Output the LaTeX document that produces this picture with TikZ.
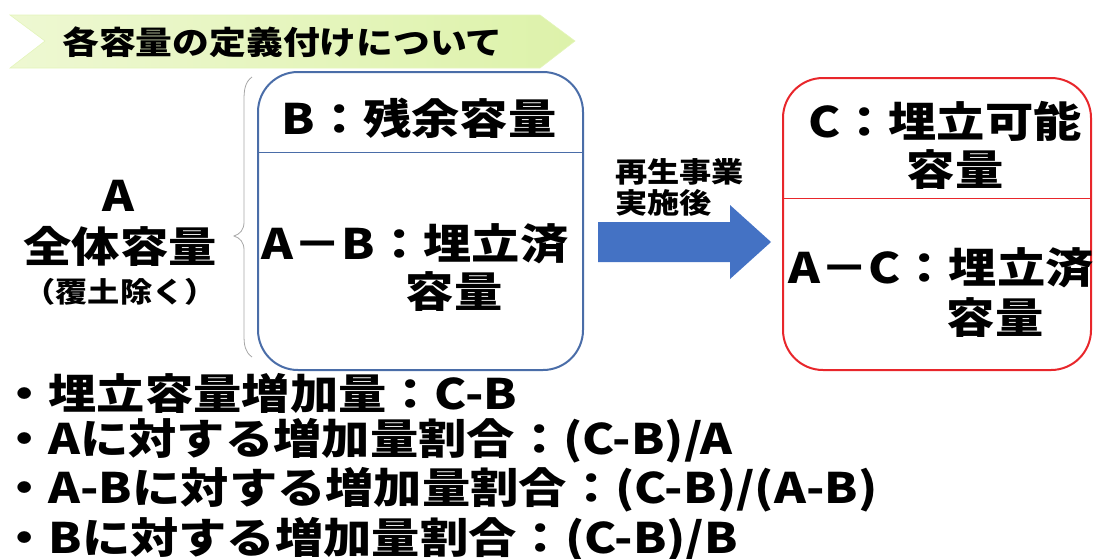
\documentclass[tikz,border=0pt]{standalone}
\usepackage{fontspec}
\setmainfont{Noto Sans CJK JP}
\definecolor{bblue}{HTML}{4A6DA8}
\definecolor{rred}{HTML}{E8262B}
\definecolor{arrblue}{HTML}{4472C4}
\definecolor{bannerL}{HTML}{EEF8D2}
\definecolor{bannerR}{HTML}{DDF2AA}
\newcommand{\sx}[1]{\scalebox{1.15}[1]{#1}}
\tikzset{
  txt/.style={inner sep=0pt, font=\bfseries\fontsize{#1}{#1}\selectfont, text=black},
  txt/.default=42,
  bigbox/.style={draw=#1, line width=2pt, rounded corners=40pt, inner sep=0pt},
  divline/.style={draw=#1, line width=0.8pt},
}
\begin{document}
\begin{tikzpicture}[x=1pt,y=-1pt]
\useasboundingbox (0,0) rectangle (1094,558);
% banner
\path[left color=bannerL, right color=bannerR, draw=bannerR!80!white, line width=0.6pt]
  (10,15) -- (540,15) -- (575,41) -- (540,68) -- (10,68) -- (45,41) -- cycle;
\node[txt=32, anchor=west] (title) at (62,42) {\sx{各容量の定義付けについて}};
% left label
\node[txt=42] (A) at (118,196) {\sx{A}};
\node[txt=42] (Aall) at (120,246) {\sx{全体容量}};
\node[txt=28] (Acov) at (120,292) {\sx{（覆土除く）}};
% brace
\draw[gray!70, line width=0.8pt] (252,77) .. controls (245,82) and (244,90) .. (244,100)
  -- (244,222) .. controls (244,230) and (240,234) .. (234,236)
  .. controls (240,238) and (244,242) .. (244,250) -- (244,335)
  .. controls (244,345) and (245,352) .. (252,357);
% blue box
\node[bigbox=bblue, minimum width=325pt, minimum height=298pt] (bbox) at (420.5,221) {};
\coordinate (bdl) at (258,152);
\coordinate (bdr) at (583,152);
\draw[divline=bblue] (bdl) -- (bdr);
\node[txt] (Btxt) at (419,118) {\sx{B：残余容量}};
\node[txt] (ABtxt) at (415,244) {\sx{A－B：埋立済}};
\node[txt] (ABtxt2) at (454,292) {\sx{容量}};
% arrow
\path[fill=arrblue] (598,222) -- (730,222) -- (730,205) -- (771,242) -- (730,279) -- (730,262) -- (598,262) -- cycle;
\node[txt=28, anchor=west] (lab1) at (615,172) {\sx{再生事業}};
\node[txt=28, anchor=west] (lab2) at (615,203) {\sx{実施後}};
% red box
\node[bigbox=rred, minimum width=308pt, minimum height=292pt] (rbox) at (937,224) {};
\coordinate (rdl) at (783,198);
\coordinate (rdr) at (1092,198);
\draw[divline=rred] (rdl) -- (rdr);
\node[txt] (Ctxt) at (945,121) {\sx{C：埋立可能}};
\node[txt] (Ctxt2) at (955,170) {\sx{容量}};
\node[txt] (ACtxt) at (941,268) {\sx{A－C：埋立済}};
\node[txt] (ACtxt2) at (995,318) {\sx{容量}};
% bullets
\node[txt, anchor=west] (b1) at (0,393) {\sx{・埋立容量増加量：C-B}};
\node[txt, anchor=west] (b2) at (0,441) {\sx{・Aに対する増加量割合：(C-B)/A}};
\node[txt, anchor=west] (b3) at (0,490) {\sx{・A-Bに対する増加量割合：(C-B)/(A-B)}};
\node[txt, anchor=west] (b4) at (0,540) {\sx{・Bに対する増加量割合：(C-B)/B}};
\end{tikzpicture}
\end{document}
